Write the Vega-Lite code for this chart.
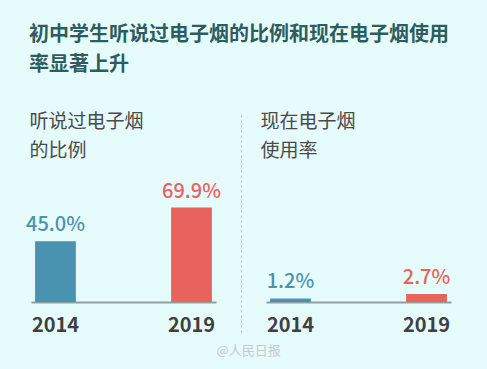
{
  "$schema": "https://vega.github.io/schema/vega-lite/v6.json",
  "background": "#e6fbfb",
  "autosize": "pad",
  "padding": {"left": 26, "top": 25, "right": 40, "bottom": 15},
  "title": {
    "text": ["初中学生听说过电子烟的比例和现在电子烟使用", "率显著上升"],
    "anchor": "start",
    "frame": "group",
    "baseline": "top",
    "offset": 37,
    "dx": -2,
    "font": "Noto Sans CJK SC",
    "fontSize": 20,
    "fontWeight": "bold",
    "color": "#2d5d5d",
    "lineHeight": 30
  },
  "bounds": "flush",
  "spacing": 50,
  "config": {"view": {"stroke": null}, "font": "Noto Sans CJK SC"},
  "hconcat": [
    {
      "width": 185,
      "height": 220,
      "data": {"values": [
        {"year": "2014", "value": 45.0, "label": "45.0%"},
        {"year": "2019", "value": 69.9, "label": "69.9%"}
      ]},
      "encoding": {
        "x": {
          "field": "year", "type": "nominal",
          "scale": {"paddingInner": 0.7, "paddingOuter": 0.03},
          "axis": {
            "orient": "bottom", "offset": -30, "title": null,
            "domainColor": "#8fa0a0", "domainWidth": 2, "ticks": false, "grid": false,
            "labelAngle": 0, "labelFontSize": 20, "labelFontWeight": "bold",
            "labelColor": "#404040", "labelPadding": 13
          }
        },
        "y": {
          "field": "value", "type": "quantitative", "scale": {"domain": [-22.2, 140.7]},
          "axis": {
            "orient": "left", "domain": false, "labels": false, "ticks": false, "grid": false,
            "title": ["听说过电子烟", "的比例"], "titleAngle": 0, "titleAlign": "left", "titleBaseline": "top",
            "titleX": -2, "titleY": 0, "titleFontSize": 19, "titleFontWeight": "normal",
            "titleColor": "#4a4a4a", "titleLineHeight": 29
          }
        },
        "color": {"field": "year", "type": "nominal", "scale": {"domain": ["2014", "2019"], "range": ["#4a93b0", "#e8625e"]}, "legend": null}
      },
      "layer": [
        {"mark": {"type": "bar"}},
        {"mark": {"type": "text", "baseline": "alphabetic", "dy": -10, "fontSize": 20, "fontWeight": 500}, "encoding": {"text": {"field": "label"}}}
      ]
    },
    {
      "width": 185,
      "height": 220,
      "data": {"values": [
        {"year": "2014", "value": 1.2, "label": "1.2%"},
        {"year": "2019", "value": 2.7, "label": "2.7%"}
      ]},
      "encoding": {
        "x": {
          "field": "year", "type": "nominal",
          "scale": {"paddingInner": 0.7, "paddingOuter": 0.03},
          "axis": {
            "orient": "bottom", "offset": -30,
            "title": "@人民日报", "titleX": -50, "titleY": 48, "titleAlign": "left", "titleBaseline": "middle",
            "titleFontSize": 13, "titleFontWeight": "normal", "titleColor": "#c3cccc",
            "domainColor": "#8fa0a0", "domainWidth": 2, "ticks": false, "grid": false,
            "labelAngle": 0, "labelFontSize": 20, "labelFontWeight": "bold",
            "labelColor": "#404040", "labelPadding": 13
          }
        },
        "y": {
          "field": "value", "type": "quantitative", "scale": {"domain": [-10, 63.33]},
          "axis": {"orient": "left", "offset": 25, "labels": false, "ticks": false, "grid": false,
                   "domainColor": "#b0c0c0", "domainDash": [2, 3], "domainWidth": 1,
                   "title": ["现在电子烟", "使用率"], "titleAngle": 0, "titleAlign": "left", "titleBaseline": "top",
                   "titleX": 19, "titleY": 0, "titleFontSize": 19, "titleFontWeight": "normal",
                   "titleColor": "#4a4a4a", "titleLineHeight": 29}
        },
        "color": {"field": "year", "type": "nominal", "scale": {"domain": ["2014", "2019"], "range": ["#4a93b0", "#e8625e"]}, "legend": null}
      },
      "layer": [
        {"mark": {"type": "bar"}},
        {"mark": {"type": "text", "baseline": "alphabetic", "dy": -10, "fontSize": 20, "fontWeight": 500}, "encoding": {"text": {"field": "label"}}}
      ]
    }
  ]
}
